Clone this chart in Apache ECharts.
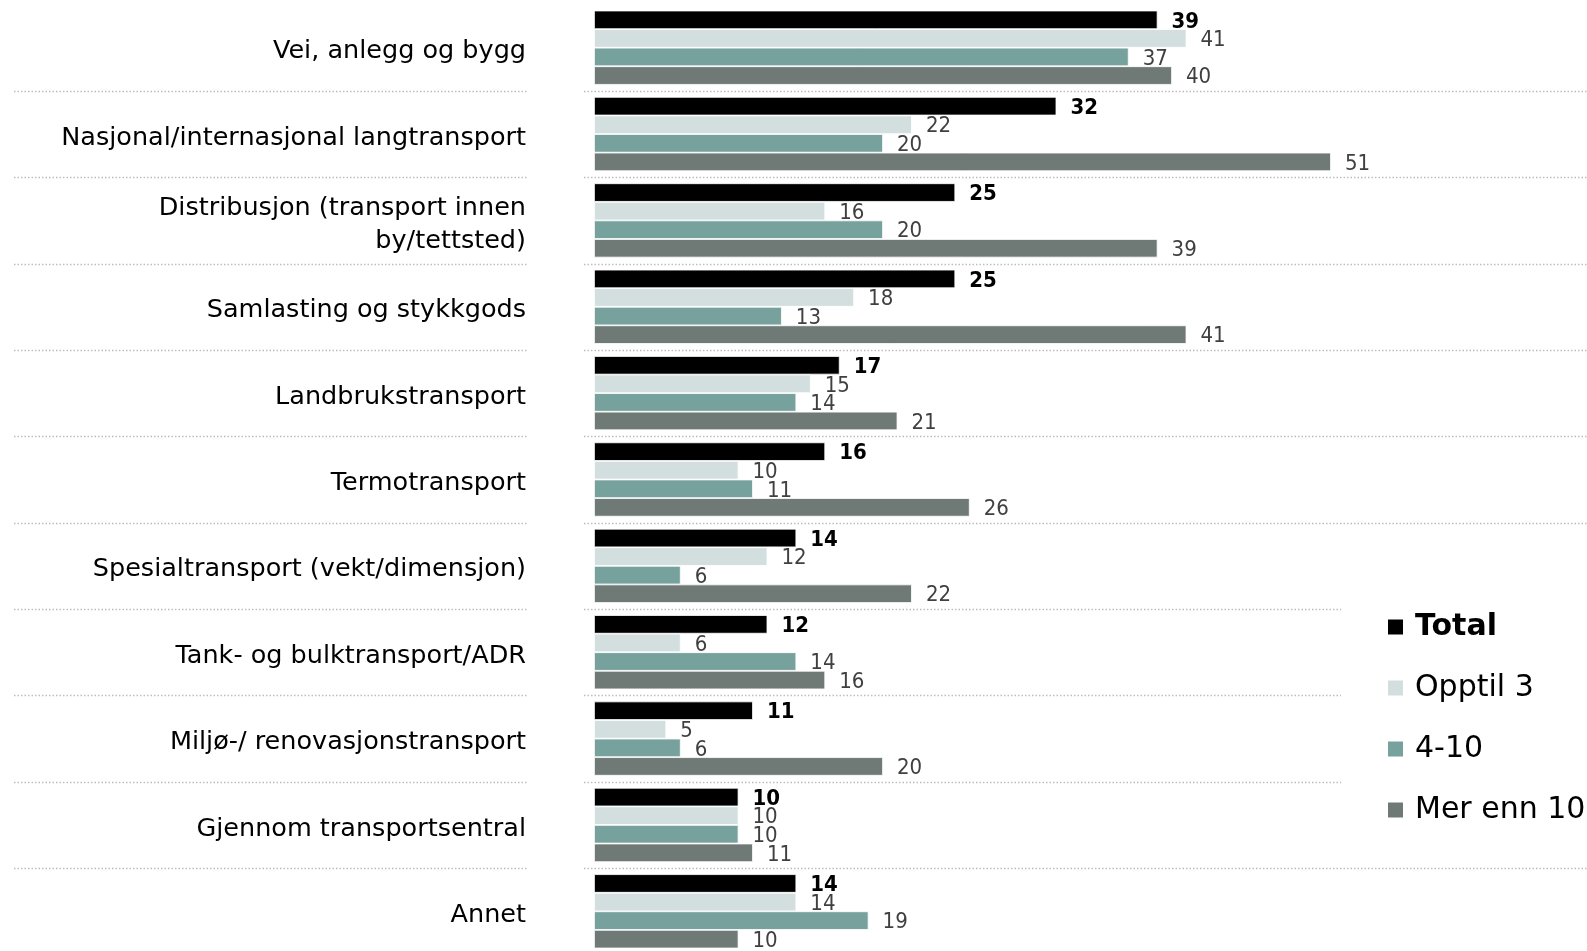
<!DOCTYPE html>
<html>
<head>
<meta charset="utf-8">
<script src="https://cdn.jsdelivr.net/npm/echarts@6/dist/echarts.min.js"></script>
<style>
  html, body { margin: 0; padding: 0; background: #fff; }
  #chart { width: 1587px; height: 951px; }
</style>
</head>
<body>
<div id="chart"></div>
<script>
const categories = [
  'Vei, anlegg og bygg',
  'Nasjonal/internasjonal langtransport',
  'Distribusjon (transport innen\nby/tettsted)',
  'Samlasting og stykkgods',
  'Landbrukstransport',
  'Termotransport',
  'Spesialtransport (vekt/dimensjon)',
  'Tank- og bulktransport/ADR',
  'Miljø-/ renovasjonstransport',
  'Gjennom transportsentral',
  'Annet'
]
const seriesNames = ['Total', 'Opptil 3', '4-10', 'Mer enn 10']
const total = [39, 32, 25, 25, 17, 16, 14, 12, 11, 10, 14]
const opptil3 = [41, 22, 16, 18, 15, 10, 12, 6, 5, 10, 14]
const mellom4og10 = [37, 20, 20, 13, 14, 11, 6, 14, 6, 10, 19]
const merEnn10 = [40, 51, 39, 41, 21, 26, 22, 16, 20, 11, 10]

const colors = ['#000000', '#d3dfdf', '#77a19c', '#6f7a76']
const font = '"DejaVu Sans", sans-serif'
const numFont = '"DejaVu Sans Condensed", "DejaVu Sans", sans-serif'

const chart = echarts.init(document.getElementById('chart'))

const makeSeries = (name, data, i) => ({
  name,
  type: 'bar',
  data,
  barGap: 0,
  barCategoryGap: '14%',
  itemStyle: { color: colors[i], borderColor: '#ffffff', borderWidth: 0.8 },
  label: {
    show: true,
    position: 'right',
    distance: 14,
    offset: [0, 2],
    fontFamily: numFont,
    fontSize: 22,
    fontWeight: i === 0 ? 'bold' : 'normal',
    color: i === 0 ? '#000' : '#404040'
  }
})

const option = {
  animation: false,
  backgroundColor: '#fff',
  grid: { left: 594, top: 4.5, width: 867, height: 950, outerBoundsMode: 'none', containLabel: false },
  xAxis: { type: 'value', min: 0, max: 60, show: false },
  yAxis: {
    type: 'category',
    inverse: true,
    data: categories,
    axisLine: { show: false },
    axisTick: { show: false },
    splitLine: { show: false },
    axisLabel: {
      margin: 68,
      align: 'right',
      formatter: v => v.split('\n').map(s => '{c|' + s + '}').join('\n'),
      rich: {
        c: {
          fontFamily: font,
          fontSize: 25.5,
          lineHeight: 33,
          color: '#000',
          padding: [8, 0, 0, 0]
        }
      }
    }
  },
  legend: {
    orient: 'vertical',
    left: 1341,
    top: 598,
    padding: [14, 10, 14, 45],
    backgroundColor: '#fff',
    itemWidth: 17,
    itemHeight: 17,
    itemGap: 31,
    icon: 'rect',
    data: seriesNames,
    textStyle: {
      fontFamily: font,
      fontSize: 30,
      color: '#000',
      padding: [0, 0, 0, 6],
      rich: {}
    },
    formatter: name => name === 'Total' ? '{b|' + name + '}' : name
  },
  series: [
    makeSeries(seriesNames[0], total, 0),
    makeSeries(seriesNames[1], opptil3, 1),
    makeSeries(seriesNames[2], mellom4og10, 2),
    makeSeries(seriesNames[3], merEnn10, 3)
  ]
}
option.legend.textStyle.rich = {
  b: { fontFamily: font, fontSize: 30, fontWeight: 'bold', color: '#000' }
}

chart.setOption(option)

// dotted separators between categories, placed from the category axis
const drawSeparators = () => {
  const centers = categories.map((c, i) => chart.convertToPixel({ yAxisIndex: 0 }, i))
  const lines = []
  for (let i = 0; i < centers.length - 1; i++) {
    const y = Math.round((centers[i] + centers[i + 1]) / 2) + 0.5
    const style = { stroke: '#bdbdbd', lineWidth: 1.5, lineDash: [1.5, 2] }
    lines.push({ type: 'line', z: 0, silent: true, shape: { x1: 14, y1: y, x2: 528, y2: y }, style })
    lines.push({ type: 'line', z: 0, silent: true, shape: { x1: 584, y1: y, x2: 1587, y2: y }, style })
  }
  chart.setOption({ graphic: lines })
}
drawSeparators()
</script>
</body>
</html>
